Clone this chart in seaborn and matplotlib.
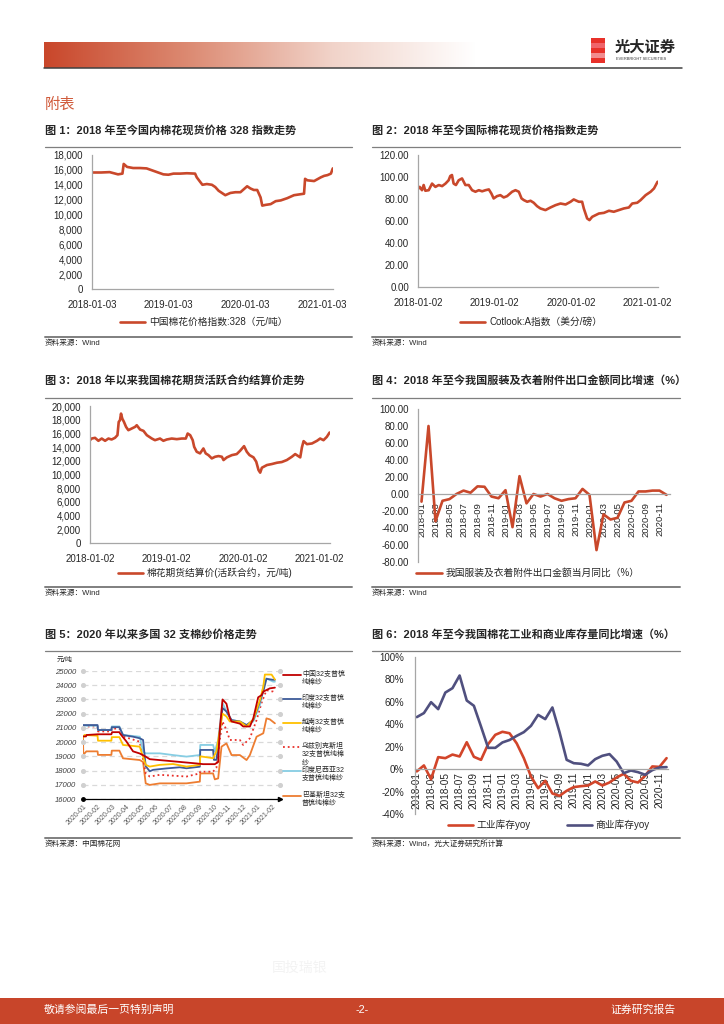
import matplotlib
matplotlib.use('Agg')
import matplotlib.pyplot as plt
from matplotlib.colors import LinearSegmentedColormap
from matplotlib.lines import Line2D
from matplotlib.patches import Rectangle
import numpy as np
import pandas as pd
import seaborn as sns

sns.set_style('white')
plt.rcParams['font.family'] = ['Liberation Sans', 'Noto Sans CJK SC', 'DejaVu Sans']
plt.rcParams['axes.unicode_minus'] = False

W, H = 724, 1024
RED = '#c9482b'
AXIS_GRAY = '#a6a6a6'
RULE_GRAY = '#7f7f7f'

# ---------------------------------------------------------------------------
# data
# ---------------------------------------------------------------------------
CN328_DATES = ['2018-01-03', '2018-02-16', '2018-03-28', '2018-05-07', '2018-05-28', '2018-06-03',
               '2018-06-19', '2018-07-18', '2018-08-19', '2018-09-20', '2018-10-30', '2018-12-09',
               '2019-01-02', '2019-01-26', '2019-02-27', '2019-03-31', '2019-05-09', '2019-05-17',
               '2019-06-02', '2019-06-13', '2019-07-04', '2019-07-28', '2019-08-13', '2019-08-29',
               '2019-09-14', '2019-09-30', '2019-10-24', '2019-11-17', '2019-12-11', '2020-01-12',
               '2020-01-28', '2020-02-13', '2020-02-29', '2020-03-16', '2020-03-24', '2020-04-09',
               '2020-05-03', '2020-05-27', '2020-06-20', '2020-07-21', '2020-08-22', '2020-09-15',
               '2020-10-09', '2020-10-14', '2020-10-25', '2020-11-26', '2020-12-28', '2021-01-13',
               '2021-01-29', '2021-02-14', '2021-02-23']
CN328_VALUES = [15650, 15650, 15700, 15400, 15500, 16800, 16400, 16250, 16250, 16200, 15800, 15400,
                15350, 15500, 15500, 15550, 15500, 15000, 14400, 14000, 14100, 14000, 13700, 13200,
                12900, 12600, 12900, 13000, 13000, 13800, 13500, 13300, 13300, 12300, 11200, 11300,
                11400, 11800, 11900, 12200, 12600, 12700, 12800, 14800, 14600, 14500, 15000, 15200,
                15300, 15500, 16200]

COTLOOK_DATES = ['2018-01-02', '2018-01-10', '2018-01-21', '2018-01-29', '2018-02-06', '2018-02-22',
                 '2018-03-10', '2018-03-26', '2018-04-11', '2018-04-27', '2018-05-13', '2018-05-28',
                 '2018-06-05', '2018-06-13', '2018-06-21', '2018-07-02', '2018-07-15', '2018-07-31',
                 '2018-08-16', '2018-09-01', '2018-09-17', '2018-10-03', '2018-10-19', '2018-11-04',
                 '2018-11-20', '2018-12-06', '2018-12-18', '2018-12-29', '2019-01-14', '2019-01-30',
                 '2019-02-15', '2019-03-03', '2019-03-27', '2019-04-12', '2019-04-28', '2019-05-11',
                 '2019-05-22', '2019-06-07', '2019-06-23', '2019-07-08', '2019-07-24', '2019-08-09',
                 '2019-09-02', '2019-09-26', '2019-10-20', '2019-11-13', '2019-12-07', '2019-12-31',
                 '2020-01-15', '2020-02-08', '2020-02-24', '2020-03-03', '2020-03-19', '2020-03-30',
                 '2020-04-12', '2020-04-28', '2020-05-14', '2020-06-07', '2020-07-01', '2020-07-24',
                 '2020-08-17', '2020-09-10', '2020-10-04', '2020-10-20', '2020-11-13', '2020-11-29',
                 '2020-12-23', '2021-01-16', '2021-02-01', '2021-02-18']
COTLOOK_VALUES = [89.0, 91.0, 88.0, 92.7, 87.5, 88.0, 94.0, 91.0, 92.7, 91.7, 94.0, 97.0,
                  100.9, 101.8, 94.0, 92.7, 97.0, 98.7, 92.7, 92.7, 88.0, 86.6, 88.0, 87.0,
                  88.0, 88.7, 85.0, 80.5, 82.6, 83.5, 81.4, 82.6, 86.6, 88.0, 86.6, 80.5,
                  79.0, 77.5, 78.4, 76.6, 73.5, 71.4, 69.9, 72.3, 74.4, 75.9, 75.0, 77.5,
                  79.6, 77.5, 77.5, 71.4, 62.3, 60.8, 63.8, 65.3, 66.8, 67.4, 69.3, 68.4,
                  69.9, 71.4, 72.3, 75.9, 76.6, 79.0, 83.5, 86.6, 89.6, 95.7]

FUTURES_DATES = ['2018-01-02', '2018-01-10', '2018-01-26', '2018-02-11', '2018-02-27', '2018-03-15',
                 '2018-03-31', '2018-04-15', '2018-05-01', '2018-05-13', '2018-05-19', '2018-05-25',
                 '2018-05-30', '2018-06-05', '2018-06-13', '2018-06-23', '2018-07-04', '2018-07-20',
                 '2018-08-05', '2018-08-13', '2018-08-29', '2018-09-14', '2018-09-30', '2018-10-24',
                 '2018-11-08', '2018-12-02', '2018-12-18', '2019-01-03', '2019-01-27', '2019-02-20',
                 '2019-03-16', '2019-04-04', '2019-04-13', '2019-04-25', '2019-05-07', '2019-05-14',
                 '2019-05-26', '2019-06-11', '2019-06-27', '2019-07-08', '2019-07-21', '2019-08-06',
                 '2019-08-22', '2019-09-07', '2019-09-23', '2019-10-01', '2019-10-17', '2019-11-10',
                 '2019-12-03', '2019-12-19', '2020-01-07', '2020-01-20', '2020-02-02', '2020-02-21',
                 '2020-03-05', '2020-03-16', '2020-03-24', '2020-04-01', '2020-04-25', '2020-05-19',
                 '2020-06-12', '2020-07-05', '2020-07-29', '2020-08-22', '2020-09-07', '2020-10-01',
                 '2020-10-09', '2020-10-17', '2020-11-02', '2020-11-26', '2020-12-20', '2021-01-04',
                 '2021-01-20', '2021-02-05', '2021-02-18']
FUTURES_VALUES = [15010, 15250, 15350, 14920, 15250, 14920, 15250, 15110, 15350, 15740, 17680, 17920,
                  18890, 18160, 17680, 16950, 16470, 16710, 16950, 17190, 16560, 16370, 15740, 15250,
                  15010, 15250, 14920, 15110, 15250, 15160, 15250, 15250, 15980, 15740, 15010, 14040,
                  13320, 13080, 13800, 13080, 12830, 12350, 12590, 12690, 12590, 12110, 12500, 12830,
                  12980, 13460, 14140, 13320, 12830, 12500, 11870, 10650, 10270, 10990, 11380, 11530,
                  11720, 11820, 12110, 12590, 12980, 12500, 13950, 14870, 14430, 14530, 14920, 15250,
                  15010, 15500, 16130]

MONTHS = [f'{y}-{m:02d}' for y in (2018, 2019, 2020) for m in range(1, 13)]
EXPORT_YOY = [-9, 80, -32, -8, -6, 0, 4, 1.5, 9, 8.5, -3, -5,
              4.5, -39, 21, -11, 0, -3, 0, -5, -8, -6, -5, 6,
              -1, -66, -24, -30, -28, -10, -8, 3, 3, 4, 4, -1]

INDUSTRIAL_YOY = [-2, 3.3, -9, 10.7, 9.8, 13, 11.3, 24, 11, 8.3, 22.3, 30.6,
                  33.3, 32, 23, 9.8, -6.5, -17, -10.4, -21.7, -23.8, -19.3, -16, -15.2,
                  -14.6, -11, -14.6, -11.9, -7.4, -4.2, -10.4, -11.9, -5.9, 2.4, 2, 9.8]
COMMERCIAL_YOY = [46.4, 50, 59.7, 53.5, 68.3, 72.2, 83.5, 61.2, 56.5, 38, 19, 19,
                  23.8, 26, 29.7, 33, 38.6, 48.4, 44.6, 55, 33, 8.3, 5.3, 4.8,
                  3.3, 8.9, 11.9, 13.4, 6.8, -3.6, -1.2, -2.7, -5, -0.9, 1.5, 1.8]

# 32-count yarn prices, x = months since 2020-01
YARN_MONTH_LABELS = ['2020-01', '2020-02', '2020-03', '2020-04', '2020-05', '2020-06', '2020-07',
                     '2020-08', '2020-09', '2020-10', '2020-11', '2020-12', '2021-01', '2021-02']
CHINA_T = [0, 0.2, 0.25, 1.0, 1.95, 2.0, 2.5, 2.55, 2.98, 3.44, 3.90, 4.31, 4.59, 6.19, 7.80, 8.26,
           9.06, 9.29, 9.40, 9.59, 9.86, 10.09, 10.21, 10.78, 11.01, 11.47, 11.70, 12.04, 12.27,
           12.39, 12.84, 13.19]
CHINA_V = [20400, 20400, 20500, 20550, 20550, 20700, 20700, 20600, 20050, 19350, 19200, 18980,
           18800, 18650, 18500, 18450, 18450, 18600, 20850, 23000, 22700, 21700, 21450, 21300,
           21100, 21100, 21650, 23150, 23300, 23550, 23780, 23830]
INDIA_T = [0, 1.0, 1.03, 1.95, 1.98, 2.5, 2.75, 3.44, 3.90, 4.13, 4.31, 4.59, 4.82, 5.73, 6.65,
           7.11, 8.03, 8.06, 8.94, 9.0, 9.17, 9.29, 9.59, 9.86, 10.21, 10.78, 11.24, 11.70, 12.16,
           12.39, 12.61, 13.07, 13.19]
INDIA_V = [21200, 21200, 20850, 20850, 21050, 21050, 20500, 20380, 20270, 20150, 18300, 17950,
           18050, 18150, 18230, 18160, 18270, 19450, 19450, 18750, 18750, 19700, 22400, 22150,
           21550, 21450, 21200, 21550, 22850, 23550, 24450, 24380, 24380]
VIETNAM_T = [0, 0.1, 1.0, 1.03, 1.95, 1.98, 2.5, 2.75, 3.44, 3.90, 4.31, 4.59, 5.28, 6.19, 7.11,
             8.03, 8.06, 8.94, 9.17, 9.59, 9.86, 10.09, 10.78, 11.24, 11.70, 12.16, 12.39, 12.50,
             12.96, 13.19]
VIETNAM_V = [20300, 20500, 20450, 20100, 20100, 20350, 20350, 19800, 19730, 19680, 18400, 18280,
             18400, 18460, 18280, 18400, 19000, 18870, 19350, 22000, 21800, 21450, 21450, 21100,
             21600, 22950, 23900, 24750, 24750, 24400]
UZBEK_T = [0, 1.0, 1.03, 1.95, 1.98, 2.5, 2.75, 3.90, 4.31, 4.59, 5.28, 7.11, 8.03, 8.06, 8.94,
           9.17, 9.40, 9.59, 9.86, 10.09, 10.78, 11.01, 11.47, 11.93, 12.27, 12.61, 13.07, 13.19]
UZBEK_V = [21100, 21100, 20750, 20750, 20950, 20950, 20400, 20030, 17800, 17580, 17700, 17580,
           17800, 17920, 17920, 18200, 20150, 21450, 20850, 20150, 20150, 19800, 20270, 21550,
           22750, 23650, 23550, 23450]
INDONESIA_T = [0, 1.0, 1.03, 1.95, 1.98, 2.5, 2.75, 3.90, 4.13, 4.31, 5.28, 6.19, 7.11, 8.03,
               8.06, 8.94, 9.06, 9.29, 9.59, 9.86, 10.21, 10.78, 11.24, 11.70, 12.16, 12.39,
               12.61, 13.07, 13.19]
INDONESIA_V = [21150, 21150, 20850, 20850, 21100, 21100, 20500, 20380, 19330, 19210, 19210,
               19090, 18980, 19090, 19800, 19800, 19330, 20150, 22750, 22150, 21550, 21450,
               21200, 21450, 22600, 23900, 24480, 24250, 24250]
PAKISTAN_T = [0, 0.02, 0.23, 1.0, 1.03, 1.95, 1.98, 2.5, 2.75, 3.90, 4.13, 4.31, 4.59, 5.28,
              7.11, 8.03, 8.06, 8.94, 9.06, 9.29, 9.52, 9.86, 10.21, 10.78, 11.24, 11.47, 11.93,
              12.39, 12.61, 12.84, 13.19]
PAKISTAN_V = [20300, 19100, 19350, 19350, 19100, 19100, 19400, 19400, 18860, 18740, 18600,
              17100, 16990, 17100, 17100, 17220, 17800, 17800, 17380, 17450, 19680, 19910,
              19090, 19090, 18740, 19090, 20380, 20620, 21670, 21600, 21320]


def fx(px):
    return px / W


def fy(py):
    return 1 - py / H


def add_box(fig, left, top, right, bottom):
    return fig.add_axes([fx(left), fy(bottom), (right - left) / W, (bottom - top) / H])


def hline(fig, x0, x1, y, color=RULE_GRAY, lw=1.0):
    fig.add_artist(Line2D([fx(x0), fx(x1)], [fy(y), fy(y)], color=color, lw=lw))


def panel_frame(fig, x0, x1, title, top, bottom, source):
    """Title, thin rule under it, heavier rule at the bottom and the source line."""
    fig.text(fx(x0), fy(top), title, fontsize=8, fontweight='bold', va='center')
    hline(fig, x0, x1, top + 17, lw=0.9)
    hline(fig, x0, x1, bottom, lw=1.4)
    fig.text(fx(x0), fy(bottom + 6), source, fontsize=5.5, va='center')


def style_axes(ax, xpad=8, ypad=6.5):
    for side in ('top', 'right'):
        ax.spines[side].set_visible(False)
    for side in ('left', 'bottom'):
        ax.spines[side].set_color(AXIS_GRAY)
        ax.spines[side].set_linewidth(0.9)
    ax.tick_params(axis='y', length=0, labelsize=7, pad=ypad)
    ax.tick_params(axis='x', length=3, direction='in', color=AXIS_GRAY, labelsize=7, pad=xpad)
    ax.set_xlabel('')
    ax.set_ylabel('')


def draw_daily(fig, box, dates, values, yticks, ylabels, xticks, xend, label, legend_xy):
    ax = add_box(fig, *box)
    df = pd.DataFrame({'date': pd.to_datetime(dates), 'value': values})
    sns.lineplot(data=df, x='date', y='value', ax=ax, color=RED, linewidth=1.9,
                 estimator=None, label=label)
    ax.set_xlim(pd.Timestamp(dates[0]), pd.Timestamp(xend))
    ax.set_ylim(yticks[0], yticks[-1])
    ax.set_yticks(yticks)
    ax.set_yticklabels(ylabels)
    ax.set_xticks(pd.to_datetime(xticks))
    ax.set_xticklabels(xticks)
    style_axes(ax)
    ax.legend(loc='center', bbox_to_anchor=(fx(legend_xy[0]), fy(legend_xy[1])),
              bbox_transform=fig.transFigure, frameon=False, fontsize=7,
              handlelength=2.6, handletextpad=0.4)
    return ax


def draw_monthly(ax, series, colors, labels, yticks, ylabels, xlim):
    for vals, color, label in zip(series, colors, labels):
        df = pd.DataFrame({'i': range(len(vals)), 'v': vals})
        sns.lineplot(data=df, x='i', y='v', ax=ax, color=color, linewidth=1.9,
                     estimator=None, label=label)
    # move the category axis onto the zero line first: this resets the tick objects
    ax.spines['bottom'].set_position(('data', 0))
    ax.set_xlim(*xlim)
    ax.set_ylim(yticks[0], yticks[-1])
    ax.set_yticks(yticks)
    ax.set_yticklabels(ylabels)
    ax.set_xticks(range(0, len(MONTHS), 2))
    ax.set_xticklabels(MONTHS[::2])
    style_axes(ax)
    ax.tick_params(axis='x', labelrotation=90)


def page_decor(fig):
    # header gradient bar and rule
    grad = add_box(fig, 44, 42, 476, 68)
    cmap = LinearSegmentedColormap.from_list('hdr', ['#c9472b', '#dc8a72', '#f1d3c9', '#ffffff'])
    grad.imshow(np.linspace(0, 1, 256)[None, :], cmap=cmap, aspect='auto')
    grad.axis('off')
    hline(fig, 44, 682, 68, color='#404040', lw=1.1)
    # logo
    logo_colors = ['#e8312a', '#f0646a', '#e8312a', '#f28c8f', '#e8312a']
    for k, c in enumerate(logo_colors):
        fig.add_artist(Rectangle((fx(591), fy(38 + (k + 1) * 5)), 14 / W, 4.6 / H,
                                 transform=fig.transFigure, color=c, lw=0))
    fig.text(fx(615), fy(48), '光大证券', fontsize=11, fontweight='bold', va='center')
    fig.text(fx(616), fy(59.5), 'EVERBRIGHT SECURITIES', fontsize=2.8, va='center', color='#333333')
    fig.text(fx(45), fy(105), '附表', fontsize=11, color='#d05a3a', va='center')
    # watermark and footer
    fig.text(fx(300), fy(968), '国投瑞银', fontsize=10, color='#f3f3f3', ha='center', va='center')
    fig.add_artist(Rectangle((0, 0), 1, 26 / H, transform=fig.transFigure, color='#c8452a', lw=0))
    fig.text(fx(44), fy(1010), '敬请参阅最后一页特别声明', fontsize=7.8, color='white', va='center')
    fig.text(fx(362), fy(1010), '-2-', fontsize=7.8, color='white', va='center', ha='center')
    fig.text(fx(676), fy(1010), '证券研究报告', fontsize=7.8, color='white', va='center', ha='right')


def draw_yarn(fig):
    ax = add_box(fig, 83, 671, 280, 799)
    series = [
        (PAKISTAN_T, PAKISTAN_V, '#ed7d31', '-'),
        (UZBEK_T, UZBEK_V, '#e8302a', ':'),
        (INDONESIA_T, INDONESIA_V, '#86cde3', '-'),
        (INDIA_T, INDIA_V, '#3d5a98', '-'),
        (VIETNAM_T, VIETNAM_V, '#ffc000', '-'),
        (CHINA_T, CHINA_V, '#c00000', '-'),
    ]
    for t, v, color, ls in series:
        df = pd.DataFrame({'t': t, 'v': v})
        sns.lineplot(data=df, x='t', y='v', ax=ax, color=color, linestyle=ls,
                     linewidth=1.3, estimator=None, sort=False)
    xmax = 13.54
    ax.set_xlim(0, xmax)
    ax.set_ylim(16000, 25000)
    yt = list(range(16000, 25001, 1000))
    ax.set_yticks(yt)
    ax.set_yticklabels([str(v) for v in yt], fontsize=5.5, style='italic', color='#404040')
    ax.yaxis.grid(True, ls=(0, (4, 3)), color='#d9d9d9', lw=0.9)
    ax.scatter([0] * 9 + [xmax] * 9, yt[1:] * 2, s=7, color='#d0d0d0', clip_on=False, zorder=3)
    ax.set_xticks(range(len(YARN_MONTH_LABELS)))
    ax.set_xticklabels(YARN_MONTH_LABELS, rotation=45, ha='right', rotation_mode='anchor',
                       fontsize=5, color='#595959')
    ax.tick_params(length=0)
    ax.tick_params(axis='x', pad=3)
    ax.tick_params(axis='y', pad=5)
    for side in ('top', 'right', 'left'):
        ax.spines[side].set_visible(False)
    ax.spines['bottom'].set_color('black')
    ax.spines['bottom'].set_linewidth(0.9)
    ax.plot([0], [16000], 'o', color='black', ms=2.5, clip_on=False)
    ax.plot([xmax], [16000], '>', color='black', ms=3, clip_on=False)
    ax.set_xlabel('')
    ax.set_ylabel('')
    fig.text(fx(57), fy(660), '元/吨', fontsize=5, va='center')
    # legend drawn beside the plot
    entries = [
        ('#c00000', '-', '中国32支普梳\n纯棉纱', 675),
        ('#3d5a98', '-', '印度32支普梳\n纯棉纱', 699),
        ('#ffc000', '-', '越南32支普梳\n纯棉纱', 723),
        ('#e8302a', ':', '乌兹别克斯坦\n32支普梳纯棉\n纱', 747),
        ('#86cde3', '-', '印度尼西亚32\n支普梳纯棉纱', 771),
        ('#ed7d31', '-', '巴基斯坦32支\n普梳纯棉纱', 796),
    ]
    for color, ls, text, y in entries:
        fig.add_artist(Line2D([fx(283), fx(301)], [fy(y), fy(y)], color=color, ls=ls, lw=1.3))
        fig.text(fx(302), fy(y - 4), text, fontsize=5, va='top', linespacing=1.25)


def main():
    fig = plt.figure(figsize=(W / 100, H / 100), dpi=100)
    page_decor(fig)

    # chart 1
    panel_frame(fig, 45, 352, '图 1：2018 年至今国内棉花现货价格 328 指数走势', 130, 337, '资料来源：Wind')
    yt = list(range(0, 18001, 2000))
    draw_daily(fig, (92, 155, 333, 289), CN328_DATES, CN328_VALUES, yt, [f'{v:,}' for v in yt],
               ['2018-01-03', '2019-01-03', '2020-01-03', '2021-01-03'], '2021-02-24',
               '中国棉花价格指数:328（元/吨）', (204, 322))

    # chart 2
    panel_frame(fig, 372, 680, '图 2：2018 年至今国际棉花现货价格指数走势', 130, 337, '资料来源：Wind')
    yt = list(range(0, 121, 20))
    draw_daily(fig, (418, 155, 658, 287), COTLOOK_DATES, COTLOOK_VALUES, yt, [f'{v:.2f}' for v in yt],
               ['2018-01-02', '2019-01-02', '2020-01-02', '2021-01-02'], '2021-02-20',
               'Cotlook:A指数（美分/磅）', (531, 322))

    # chart 3
    panel_frame(fig, 45, 352, '图 3：2018 年以来我国棉花期货活跃合约结算价走势', 381, 587, '资料来源：Wind')
    yt = list(range(0, 20001, 2000))
    draw_daily(fig, (90, 406, 330, 543), FUTURES_DATES, FUTURES_VALUES, yt, [f'{v:,}' for v in yt],
               ['2018-01-02', '2019-01-02', '2020-01-02', '2021-01-02'], '2021-02-20',
               '棉花期货结算价(活跃合约，元/吨)', (205, 573))

    # chart 4
    panel_frame(fig, 372, 680, '图 4：2018 年至今我国服装及衣着附件出口金额同比增速（%）', 381, 587,
                '资料来源：Wind')
    ax4 = add_box(fig, 418, 409, 670, 562)
    yt = list(range(-80, 101, 20))
    draw_monthly(ax4, [EXPORT_YOY], [RED], ['我国服装及衣着附件出口金额当月同比（%）'],
                 yt, [f'{v:.2f}' for v in yt], (-0.5, 35.5))
    ax4.tick_params(axis='x', pad=6, labelsize=6.8)
    ax4.legend(loc='center', bbox_to_anchor=(fx(528), fy(573)), bbox_transform=fig.transFigure,
               frameon=False, fontsize=7, handlelength=2.6, handletextpad=0.4)

    # chart 5
    panel_frame(fig, 45, 352, '图 5：2020 年以来多国 32 支棉纱价格走势', 634, 838, '资料来源：中国棉花网')
    draw_yarn(fig)

    # chart 6
    panel_frame(fig, 372, 680, '图 6：2018 年至今我国棉花工业和商业库存量同比增速（%）', 634, 838,
                '资料来源：Wind，光大证券研究所计算')
    ax6 = add_box(fig, 415, 657, 668, 814)
    yt = list(range(-40, 101, 20))
    draw_monthly(ax6, [INDUSTRIAL_YOY, COMMERCIAL_YOY], ['#d2452a', '#50507f'],
                 ['工业库存yoy', '商业库存yoy'], yt, [f'{v}%' for v in yt], (-0.25, 35.2))
    ax6.tick_params(axis='x', pad=2, labelsize=7.2)
    ax6.tick_params(axis='y', pad=8)
    ax6.legend(loc='center', bbox_to_anchor=(fx(549), fy(825)), bbox_transform=fig.transFigure,
               frameon=False, fontsize=7, ncol=2, handlelength=2.5, handletextpad=0.4,
               columnspacing=3.8)

    fig.savefig('out.png', dpi=100, facecolor='white')


if __name__ == '__main__':
    main()
